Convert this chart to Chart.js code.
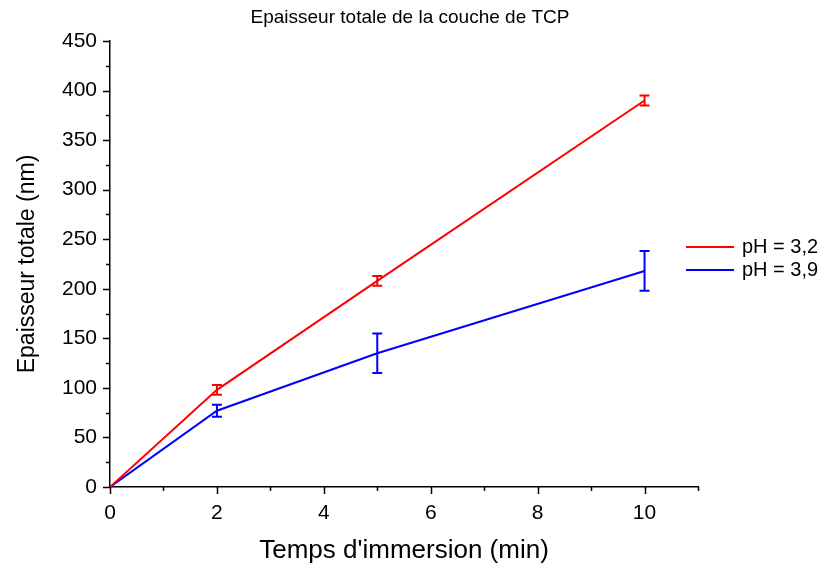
<!DOCTYPE html>
<html>
<head>
<meta charset="utf-8">
<script src="https://cdn.jsdelivr.net/npm/chart.js@4"></script>
<style>
  body { margin: 0; background: #fff; }
  #wrap { width: 834px; height: 569px; }
</style>
</head>
<body>
<div id="wrap"><canvas id="myChart" width="834" height="569"></canvas></div>
<script>
// data
const times = [0, 2, 5, 10];
const ph32 = [0, 98, 208, 390];
const ph32Err = [0, 5, 5, 5];
const ph39 = [0, 77, 135, 218];
const ph39Err = [0, 6, 20, 20];
const seriesLabels = ['pH = 3,2', 'pH = 3,9'];
const seriesColors = ['#ff0000', '#0000ff'];
const chartTitle = 'Epaisseur totale de la couche de TCP';

const FONT = 'Arial, "Liberation Sans", sans-serif';

function pts(ys) {
  return times.map(function (t, i) { return { x: t, y: ys[i] }; });
}

/* error bars, minor ticks, title and legend */
const extras = {
  id: 'extras',
  afterDatasetsDraw: function (chart) {
    const c = chart.ctx;
    const xs = chart.scales.x;
    const ys = chart.scales.y;
    const errs = [ph32Err, ph39Err];
    const vals = [ph32, ph39];
    c.save();
    c.lineWidth = 2;
    for (let s = 0; s < 2; s++) {
      c.strokeStyle = seriesColors[s];
      for (let i = 0; i < times.length; i++) {
        if (!errs[s][i]) continue;
        const px = xs.getPixelForValue(times[i]);
        const top = ys.getPixelForValue(vals[s][i] + errs[s][i]);
        const bot = ys.getPixelForValue(vals[s][i] - errs[s][i]);
        c.beginPath();
        c.moveTo(px, top); c.lineTo(px, bot);
        c.moveTo(px - 5, top); c.lineTo(px + 5, top);
        c.moveTo(px - 5, bot); c.lineTo(px + 5, bot);
        c.stroke();
      }
    }
    c.restore();
  },
  afterDraw: function (chart) {
    const c = chart.ctx;
    const xs = chart.scales.x;
    const ys = chart.scales.y;
    const area = chart.chartArea;
    c.save();
    c.strokeStyle = '#000';
    c.lineWidth = 1.5;
    c.beginPath();
    for (let v = 0; v <= 11; v++) {
      const px = Math.round(xs.getPixelForValue(v)) + 0.5;
      const len = v % 2 === 0 ? 7 : 4;
      c.moveTo(px, area.bottom); c.lineTo(px, area.bottom + len);
    }
    for (let v = 0; v <= 450; v += 25) {
      const py = Math.round(ys.getPixelForValue(v)) + 0.5;
      const len = v % 50 === 0 ? 7 : 4;
      c.moveTo(area.left, py); c.lineTo(area.left - len, py);
    }
    c.stroke();

    // title
    c.fillStyle = '#000';
    c.textBaseline = 'middle';
    c.textAlign = 'center';
    c.font = '19px ' + FONT;
    c.fillText(chartTitle, 410, 18);

    // legend
    c.font = '20px ' + FONT;
    c.textAlign = 'left';
    for (let s = 0; s < 2; s++) {
      const ly = 247 + s * 23;
      c.strokeStyle = seriesColors[s];
      c.lineWidth = 2;
      c.beginPath();
      c.moveTo(686, ly); c.lineTo(734, ly);
      c.stroke();
      c.fillStyle = '#000';
      c.fillText(seriesLabels[s], 742, ly);
    }
    c.restore();
  }
};

const ctx = document.getElementById('myChart').getContext('2d');

const chart = new Chart(ctx, {
  type: 'line',
  data: {
    datasets: [
      {
        label: seriesLabels[0],
        data: pts(ph32),
        borderColor: seriesColors[0],
        backgroundColor: seriesColors[0],
        borderWidth: 2,
        pointRadius: 0,
        tension: 0,
      },
      {
        label: seriesLabels[1],
        data: pts(ph39),
        borderColor: seriesColors[1],
        backgroundColor: seriesColors[1],
        borderWidth: 2,
        pointRadius: 0,
        tension: 0,
      },
    ],
  },
  options: {
    responsive: false,
    animation: false,
    layout: { padding: { top: 41, right: 136, left: 0, bottom: 0 } },
    plugins: {
      legend: { display: false },
      tooltip: { enabled: false },
      title: { display: false },
    },
    scales: {
      x: {
        type: 'linear',
        min: 0,
        max: 11,
        afterFit: function (s) { s.height = 82; },
        border: { display: true, color: '#000', width: 1.5 },
        grid: { drawOnChartArea: false, drawTicks: true, tickLength: 8, color: 'rgba(0,0,0,0)' },
        ticks: {
          stepSize: 2,
          color: '#000',
          padding: 6,
          maxRotation: 0,
          font: { family: FONT, size: 21 },
          callback: function (v) { return v <= 10 ? v : ''; },
        },
        title: {
          display: true,
          text: "Temps d'immersion (min)",
          color: '#000',
          font: { family: FONT, size: 26 },
          padding: { top: 0, bottom: 3 },
        },
      },
      y: {
        min: 0,
        max: 450,
        afterFit: function (s) { s.width = 110; },
        border: { display: true, color: '#000', width: 1.5 },
        grid: { drawOnChartArea: false, drawTicks: true, tickLength: 8, color: 'rgba(0,0,0,0)' },
        ticks: {
          stepSize: 50,
          color: '#000',
          padding: 5,
          font: { family: FONT, size: 21 },
        },
        title: {
          display: true,
          text: 'Epaisseur totale (nm)',
          color: '#000',
          font: { family: FONT, size: 23 },
          padding: { top: 14, bottom: 0 },
        },
      },
    },
  },
  plugins: [extras],
});
</script>
</body>
</html>
